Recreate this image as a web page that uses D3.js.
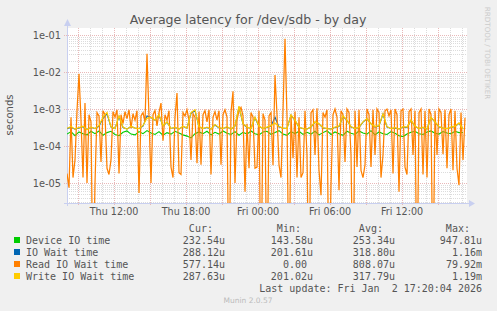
<!DOCTYPE html>
<html><head><meta charset="utf-8">
<script src="https://cdn.jsdelivr.net/npm/d3@7"></script>
<style>body{margin:0;background:#F0F0F0}svg{display:block}</style>
</head><body><svg id="c" width="497" height="311"></svg>
<script>
const title = "Average latency for /dev/sdb - by day";
const yLabel = "seconds";
const yTickValues = [1e-1, 1e-2, 1e-3, 1e-4, 1e-5];
const yTickLabels = ["1e-01", "1e-02", "1e-03", "1e-04", "1e-05"];
const xTickLabels = ["Thu 12:00", "Thu 18:00", "Fri 00:00", "Fri 06:00", "Fri 12:00"];
const seriesNames = ["Device IO time", "IO Wait time", "Read IO Wait time", "Write IO Wait time"];
const seriesColors = ["#00CC00", "#0066B3", "#FF8000", "#FFCC00"];
const curValues = ["232.54u", "288.12u", "577.14u", "287.63u"];
const minValues = ["143.58u", "201.61u", "0.00", "201.02u"];
const avgValues = ["253.34u", "318.80u", "808.07u", "317.79u"];
const maxValues = ["947.81u", "1.16m", "79.92m", "1.19m"];
const lastUpdate = "Last update: Fri Jan  2 17:20:04 2026";
const footer = "Munin 2.0.57";
const sideText = "RRDTOOL / TOBI OETIKER";

// values in microseconds; device/iowait/write sampled every 20 min, read every 10 min
const deviceIO = [210,245,190,240,215,200,250,215,255,195,
 230,250,205,190,235,255,210,200,245,215,
 260,225,205,245,195,230,210,250,225,200,
 185,165,215,240,215,250,200,235,210,255,
 220,205,245,195,235,210,255,215,200,240,
 250,205,230,260,210,195,245,215,250,205,
 235,210,250,200,230,260,205,240,215,195,
 250,220,205,255,225,210,260,200,240,215,
 205,245,220,190,180,210,235,250,215,205,
 240,255,220,210,245,225,215,250,230,232];
const ioWait = [295,320,285,305,330,280,315,298,340,560,
 740,325,298,620,315,288,335,305,298,345,
 650,590,495,680,345,440,298,315,288,335,
 305,760,900,325,298,315,288,370,305,298,
 325,288,345,1150,395,315,298,580,335,298,
 315,345,600,325,305,298,680,495,315,298,
 288,325,440,395,305,298,288,315,335,630,
 495,325,298,315,440,540,395,325,345,730,
 325,298,305,288,325,315,495,335,298,315,
 288,590,440,325,305,298,315,335,410,288];
const writeWait = [300,340,285,315,345,275,325,295,360,600,
 800,330,295,650,325,285,345,305,295,360,
 560,600,500,700,355,450,295,325,285,345,
 305,800,950,335,295,325,285,380,315,295,
 335,285,355,1190,400,325,295,600,345,295,
 325,355,420,335,305,295,700,500,325,295,
 285,335,450,400,315,295,285,325,345,650,
 500,335,295,325,450,550,400,335,355,750,
 335,295,315,285,335,325,500,345,295,325,
 285,600,450,335,305,295,325,345,420,290];
const readWait = [18,7.5,600,14,42,900,8900,500,14,1450,
 10,700,450,0,10,800,650,37,900,700,
 25,17,42,850,600,950,18,700,400,850,
 550,950,300,750,500,900,5.4,650,800,450,
 31000,600,10,700,900,350,800,1450,140,700,
 500,900,27,14,600,2700,19,17,800,650,
 950,500,42,750,600,34,850,31,700,900,
 450,950,17,600,850,500,900,31,700,950,
 600,0,800,3000,10,500,900,1100,650,5.8,
 400,25,800,600,25,27,900,0,750,500,
 0,650,800,30,8300,700,31,14,900,79000,
 600,0,700,47,850,14,600,14,19,900,
 57,0,800,950,57,1050,22,4.7,800,600,
 950,0,8.8,700,1000,600,6.4,900,700,37,
 1000,800,57,0,900,27,950,22,14,31,
 1000,700,27,950,57,1000,800,14,57,900,
 1000,650,950,18,1000,700,5.8,900,1000,27,
 17,850,1000,57,900,0,800,1000,17,900,
 14,1000,700,0,900,57,1000,800,60,950,
 25,700,1000,22,900,25,8.8,800,42,577];

const svg = d3.select("#c");
const L = 67, R = 467, T = 28, B = 203;
const t0 = new Date(2026, 0, 1, 8, 7), t1 = new Date(2026, 0, 2, 17, 27);
const x = d3.scaleTime().domain([t0, t1]).range([L, R]);
const decadePx = 37;
const yTop = Math.pow(10, -1 + (35 - T) / decadePx), yBot = Math.pow(10, -1 - (B - 35) / decadePx);
const y = d3.scaleLog().domain([yBot, yTop]).range([B, T]);

svg.append("rect").attr("width", 497).attr("height", 311).attr("fill", "#F0F0F0");
svg.append("rect").attr("x", L).attr("y", T).attr("width", R - L).attr("height", B - T).attr("fill", "#FFFFFF");

// grid
const g = svg.append("g").attr("shape-rendering", "crispEdges");
const minorC = "#DCDCDC", majorC = "#E8B8B8";
d3.timeHour.range(t0, t1).forEach(h => {
  const major = h.getHours() % 3 === 0;
  const xx = Math.round(x(h)) + 0.5;
  g.append("line").attr("x1", xx).attr("x2", xx).attr("y1", T).attr("y2", major ? B + 3 : B)
    .attr("stroke", major ? majorC : minorC).attr("stroke-dasharray", "1,1");
});
for (let k = -6; k <= 0; k++) {
  for (let m = 1; m <= 9; m++) {
    const v = m * Math.pow(10, k);
    if (v < yBot || v > yTop) continue;
    const yy = Math.round(y(v)) + 0.5;
    g.append("line").attr("x1", m === 1 ? L - 3 : L).attr("x2", R).attr("y1", yy).attr("y2", yy)
      .attr("stroke", m === 1 ? majorC : minorC).attr("stroke-dasharray", "1,1");
  }
}

// axes lines & arrows
const axC = "#C8CFF0";
svg.append("line").attr("x1", L + 0.5).attr("x2", L + 0.5).attr("y1", T - 4).attr("y2", B + 3).attr("stroke", axC);
svg.append("line").attr("x1", L - 3).attr("x2", R + 4).attr("y1", B + 0.5).attr("y2", B + 0.5).attr("stroke", axC);
svg.append("path").attr("d", `M${L - 3},${T - 2} L${L + 4},${T - 2} L${L + 0.5},${T - 9} Z`).attr("fill", axC);
svg.append("path").attr("d", `M${R + 2},${B - 3} L${R + 2},${B + 4} L${R + 8},${B + 0.5} Z`).attr("fill", axC);

// series
svg.append("clipPath").attr("id", "pc").append("rect").attr("x", L).attr("y", T).attr("width", R - L + 1).attr("height", B - T);
function draw(vals, stepMin, color, w) {
  const line = d3.line()
    .x((d, i) => x(new Date(t0.getTime() + i * stepMin * 60000)))
    .y(d => y(Math.max(d * 1e-6, 1e-8)));
  svg.append("path").datum(vals).attr("d", line).attr("fill", "none")
    .attr("stroke", color).attr("stroke-width", w).attr("clip-path", "url(#pc)");
}
draw(deviceIO, 20, seriesColors[0], 1.1);
draw(ioWait, 20, seriesColors[1], 1.1);
draw(readWait, 10, seriesColors[2], 1.25);
draw(writeWait, 20, seriesColors[3], 1.2);

// axis labels
const txtC = "#555555";
const yAxis = d3.axisLeft(y).tickValues(yTickValues).tickSize(0).tickPadding(0)
  .tickFormat((d, i) => yTickLabels[i]);
const ya = svg.append("g").attr("transform", `translate(${L - 6},0)`).call(yAxis);
ya.select(".domain").remove();
ya.selectAll("text").attr("font-family", "DejaVu Sans").attr("font-size", 9.8).attr("fill", txtC);

const xTicks = [new Date(2026,0,1,12), new Date(2026,0,1,18), new Date(2026,0,2,0), new Date(2026,0,2,6), new Date(2026,0,2,12)];
const xAxis = d3.axisBottom(x).tickValues(xTicks).tickSize(0).tickPadding(0)
  .tickFormat((d, i) => xTickLabels[i]);
const xa = svg.append("g").attr("transform", `translate(0,${B + 5})`).call(xAxis);
xa.select(".domain").remove();
xa.selectAll("text").attr("font-family", "DejaVu Sans").attr("font-size", 9.6).attr("fill", txtC).attr("dy", "0.71em");

svg.append("text").attr("x", 248).attr("y", 24).attr("text-anchor", "middle")
  .attr("font-family", "DejaVu Sans").attr("font-size", 12.6).attr("fill", txtC).text(title);
svg.append("text").attr("transform", "translate(13,115) rotate(-90)").attr("text-anchor", "middle")
  .attr("font-family", "DejaVu Sans").attr("font-size", 10).attr("fill", txtC).text(yLabel);
svg.append("text").attr("transform", "translate(485,53) rotate(90)").attr("text-anchor", "middle")
  .attr("font-family", "DejaVu Sans").attr("font-size", 7.2).attr("fill", "#CCCCCC").text(sideText);

// legend
const mono = "DejaVu Sans Mono", fs = 10, cw = 6.02;
const lg = svg.append("g").attr("font-family", mono).attr("font-size", fs).attr("fill", txtC);
const cols = [225, 313, 395, 482];
const heads = ["Cur:", "Min:", "Avg:", "Max:"];
heads.forEach((h, j) => lg.append("text").attr("x", cols[j] - 2 * cw).attr("y", 231.5).attr("text-anchor", "end").text(h));
const table = [curValues, minValues, avgValues, maxValues];
seriesNames.forEach((n, i) => {
  const cy = 240 + i * 12;
  svg.append("rect").attr("x", 14).attr("y", cy - 3).attr("width", 6).attr("height", 6).attr("fill", seriesColors[i]);
  lg.append("text").attr("x", 26).attr("y", cy + 3.5).text(n);
  table.forEach((col, j) => {
    const v = col[i];
    const shift = /[a-zA-Z]$/.test(v) ? 0 : cw;
    lg.append("text").attr("x", cols[j] - shift).attr("y", cy + 3.5).attr("text-anchor", "end").text(v);
  });
});
lg.append("text").attr("x", 482).attr("y", 291.5).attr("text-anchor", "end").attr("xml:space", "preserve")
  .style("white-space", "pre").text(lastUpdate);
svg.append("text").attr("x", 248).attr("y", 302.5).attr("text-anchor", "middle")
  .attr("font-family", "DejaVu Sans").attr("font-size", 7.5).attr("fill", "#BBBBBB").text(footer);
</script></body></html>
